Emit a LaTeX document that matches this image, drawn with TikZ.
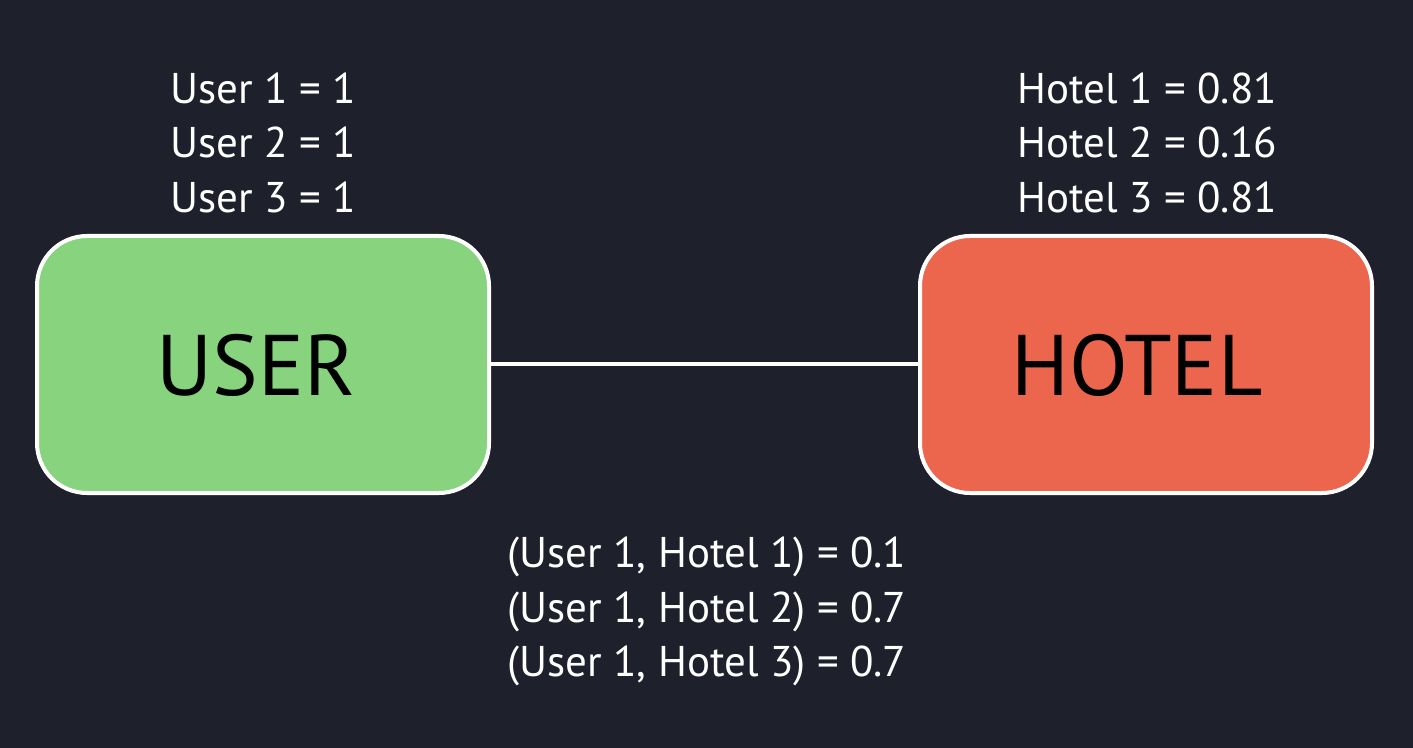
\documentclass[tikz,border=0pt]{standalone}
\usepackage{fontspec}
\setmainfont{PT Sans}
\definecolor{bgdark}{HTML}{1E202B}
\definecolor{usergreen}{HTML}{88D47E}
\definecolor{hotelred}{HTML}{EC664E}
\begin{document}
\begin{tikzpicture}[x=0.5pt, y=-0.5pt,
  entity/.style={draw=white, line width=2pt, rounded corners=25pt,
    minimum width=226pt, minimum height=128.5pt, text=black,
    font=\fontsize{43}{50}\selectfont},
  lbl/.style={anchor=base west, text=white, inner sep=0pt,
    font=\fontsize{21.5}{26}\selectfont}]
\fill[bgdark] (0,0) rectangle (1413,748);
\node[entity, fill=usergreen] (user) at (263,364.5) {};
\node[entity, fill=hotelred] (hotel) at (1146,364.5) {};
\node[anchor=base, inner sep=0pt, font=\fontsize{43}{50}\selectfont] (usertxt) at (256,395) {USER};
\node[anchor=base, inner sep=0pt, font=\fontsize{43}{50}\selectfont] (hoteltxt) at (1137,395) {HOTEL};
\draw[white, line width=2pt] (user) -- (hotel);
% weights
\foreach \i/\v in {1/1,2/1,3/1}
\node[lbl] (u\i) at (170, 49+54.5*\i) {User \i{} = \v};
\foreach \i/\v in {1/0.81,2/0.16,3/0.81}
\node[lbl] (h\i) at (1017, 49+54.5*\i) {Hotel \i{} = \v};
\foreach \i/\v in {1/0.1,2/0.7,3/0.7}
\node[lbl] (p\i) at (507, 513+54.5*\i) {(User 1, Hotel \i) = \v};
\end{tikzpicture}
\end{document}
